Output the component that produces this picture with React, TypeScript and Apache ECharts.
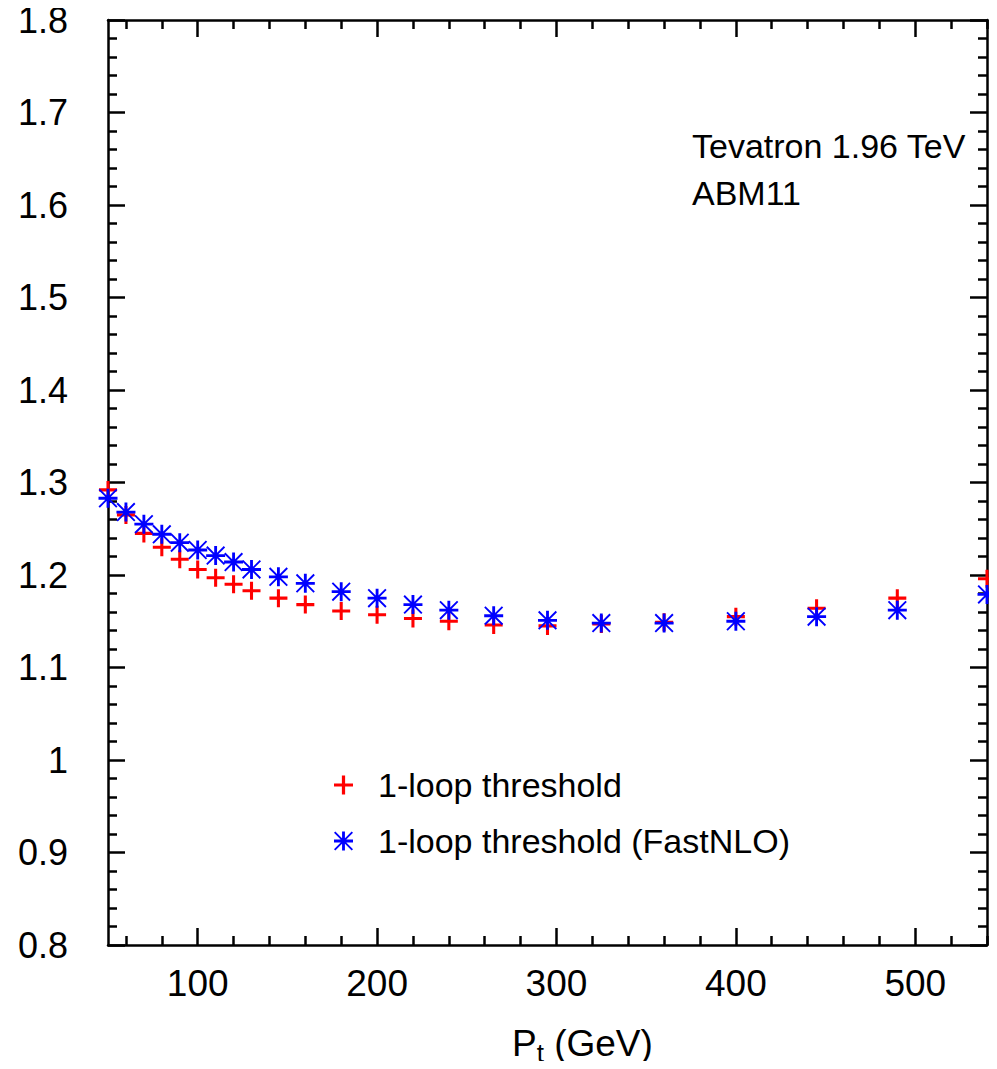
import React, { useEffect, useRef } from "react";
import * as echarts from "echarts";

const ptValues = [50, 60, 70, 80, 90, 100, 110, 120, 130, 145, 160, 180, 200, 220, 240, 265, 295, 325, 360, 400, 445, 490, 540];
const oneLoop = [1.292, 1.265, 1.245, 1.230, 1.217, 1.206, 1.197, 1.190, 1.183, 1.175, 1.168, 1.161, 1.157, 1.153, 1.150, 1.146, 1.145, 1.147, 1.149, 1.155, 1.164, 1.175, 1.196];
const oneLoopFastNLO = [1.283, 1.268, 1.255, 1.244, 1.235, 1.227, 1.221, 1.214, 1.206, 1.198, 1.191, 1.182, 1.175, 1.168, 1.162, 1.156, 1.151, 1.148, 1.148, 1.150, 1.155, 1.162, 1.179];
const xMajorTicks = [100, 200, 300, 400, 500];
const xMinorTicks = [60, 80, 120, 140, 160, 180, 220, 240, 260, 280, 320, 340, 360, 380, 420, 440, 460, 480, 520, 540];
const seriesNames = ["1-loop threshold", "1-loop threshold (FastNLO)"];
const infoLines = ["Tevatron 1.96 TeV", "ABM11"];

const PLUS =
  "path://M-1,-0.17L-0.17,-0.17L-0.17,-1L0.17,-1L0.17,-0.17L1,-0.17L1,0.17L0.17,0.17L0.17,1L-0.17,1L-0.17,0.17L-1,0.17Z";
const STAR =
  "path://M-1,-0.15L1,-0.15L1,0.15L-1,0.15Z" +
  "M-0.15,-1L0.15,-1L0.15,1L-0.15,1Z" +
  "M-0.86,-1L1,0.86L0.86,1L-1,-0.86Z" +
  "M1,-0.86L-0.86,1L-1,0.86L0.86,-1Z";

const FONT = "Liberation Sans";

export default function App() {
  const ref = useRef<HTMLDivElement>(null);
  useEffect(() => {
    if (!ref.current) return;
    const chart = echarts.init(ref.current, null, { renderer: "svg" });
    const lineStyle = { color: "#000", width: 2.5 };
    const baseX = { type: "value", min: 50, max: 540, gridIndex: 0, splitLine: { show: false } };
    const baseY = { type: "value", min: 0.8, max: 1.8, interval: 0.1, splitLine: { show: false } };
    chart.setOption({
      animation: false,
      backgroundColor: "#fff",
      textStyle: { fontFamily: FONT },
      grid: { left: 108, right: 10, top: 20, bottom: 124, containLabel: false },
      xAxis: [
        {
          ...baseX,
          position: "bottom",
          axisLine: { show: true, lineStyle },
          axisTick: { show: true, inside: true, length: 17, lineStyle, customValues: xMajorTicks },
          axisLabel: { show: true, customValues: xMajorTicks, fontSize: 37, color: "#000", fontFamily: FONT, margin: 20 },
        },
        {
          ...baseX,
          position: "bottom",
          axisLine: { show: false },
          axisTick: { show: true, inside: true, length: 9, lineStyle, customValues: xMinorTicks },
          axisLabel: { show: false },
        },
        {
          ...baseX,
          position: "top",
          axisLine: { show: true, lineStyle },
          axisTick: { show: true, inside: true, length: 17, lineStyle, customValues: xMajorTicks },
          axisLabel: { show: false },
        },
        {
          ...baseX,
          position: "top",
          axisLine: { show: false },
          axisTick: { show: true, inside: true, length: 9, lineStyle, customValues: xMinorTicks },
          axisLabel: { show: false },
        },
      ],
      yAxis: [
        {
          ...baseY,
          position: "left",
          axisLine: { show: true, lineStyle },
          axisTick: { show: true, inside: true, length: 17, lineStyle },
          minorTick: { show: true, splitNumber: 5, length: 9, lineStyle },
          axisLabel: { show: true, fontSize: 36, color: "#000", fontFamily: FONT, margin: 40 },
        },
        {
          ...baseY,
          position: "right",
          axisLine: { show: true, lineStyle },
          axisTick: { show: true, inside: true, length: 17, lineStyle },
          minorTick: { show: true, splitNumber: 5, length: 9, lineStyle },
          axisLabel: { show: false },
        },
      ],
      legend: {
        orient: "vertical",
        left: 329,
        top: 763,
        itemGap: 22,
        itemWidth: 19,
        itemHeight: 19,
        textStyle: { fontSize: 34, color: "#000", fontFamily: FONT, padding: [0, 0, 0, 20] },
        data: seriesNames,
      },
      series: [
        {
          name: seriesNames[0],
          type: "scatter",
          xAxisIndex: 0,
          yAxisIndex: 0,
          symbol: PLUS,
          symbolSize: 18,
          itemStyle: { color: "#ff0000", opacity: 1 },
          data: ptValues.map((x, i) => [x, oneLoop[i]]),
          z: 2,
        },
        {
          name: seriesNames[1],
          type: "scatter",
          xAxisIndex: 0,
          yAxisIndex: 0,
          symbol: STAR,
          symbolSize: 19,
          itemStyle: { color: "#0000ff", opacity: 1 },
          data: ptValues.map((x, i) => [x, oneLoopFastNLO[i]]),
          z: 3,
        },
      ],
      graphic: [
        { type: "text", left: 692, top: 129, style: { text: infoLines[0], fontSize: 34, fontFamily: FONT, fill: "#000" } },
        { type: "text", left: 692, top: 176, style: { text: infoLines[1], fontSize: 34, fontFamily: FONT, fill: "#000" } },
        {
          type: "text",
          left: 512,
          top: 1025,
          style: {
            text: "{a|P}{b|t}{a| (GeV)}",
            fontFamily: FONT,
            fill: "#000",
            rich: {
              a: { fontSize: 37, lineHeight: 37, fontFamily: FONT, verticalAlign: "top", fill: "#000" },
              b: { fontSize: 26, lineHeight: 18, padding: [15, 0, 0, 0], fontFamily: FONT, verticalAlign: "top", fill: "#000" },
            },
          },
        },
      ],
    });
    return () => chart.dispose();
  }, []);
  return <div ref={ref} style={{ width: 997, height: 1069, margin: -8 }} />;
}
